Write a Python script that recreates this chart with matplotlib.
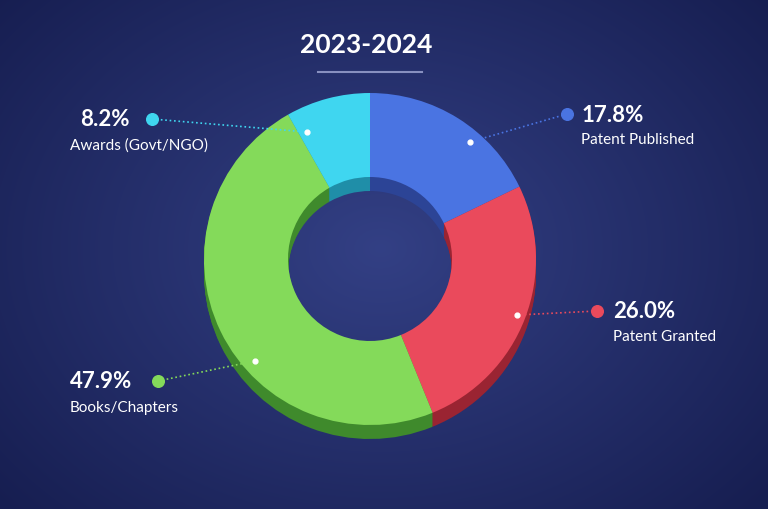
import matplotlib
matplotlib.use("Agg")
import matplotlib.pyplot as plt
import numpy as np

title = "2023-2024"
categories = ["Patent Published", "Patent Granted", "Books/Chapters", "Awards (Govt/NGO)"]
values = [17.8, 26.0, 47.9, 8.2]
colors = ["#4a74e2", "#ea4a5c", "#84da5a", "#3fd6f0"]
dark = ["#2c4496", "#9a2432", "#3f8a2c", "#1f8ea8"]

W, H = 768, 510
fig = plt.figure(figsize=(7.68, 5.10), dpi=100)
ax = fig.add_axes([0, 0, 1, 1])
ax.set_xlim(0, W); ax.set_ylim(0, H); ax.set_aspect('equal'); ax.axis('off')

# background radial gradient
yy, xx = np.mgrid[0:H, 0:W]
d = np.sqrt(((xx - 380) / 500) ** 2 + ((yy - 260) / 380) ** 2)
c0 = np.array([0.20, 0.25, 0.52]); c1 = np.array([0.09, 0.12, 0.32])
t = np.clip(d, 0, 1)[..., None]
img = c0 * (1 - t) + c1 * t
ax.imshow(img, extent=[0, W, 0, H], origin='lower', zorder=0)

cx, cy, R, w = 370, 250, 166, 84
for k in range(14, 0, -1):
    ax.pie(values, colors=dark, startangle=90, counterclock=False, radius=R,
           center=(cx, cy - k), wedgeprops=dict(width=w, linewidth=0), frame=True)
ax.pie(values, colors=colors, startangle=90, counterclock=False, radius=R,
       center=(cx, cy), wedgeprops=dict(width=w, linewidth=0), frame=True)
ax.set_xlim(0, W); ax.set_ylim(0, H); ax.axis('off')

ax.text(W / 2 - 18, H - 45, title, color='white', fontsize=19, fontweight='bold',
        ha='center', va='center', family='Lato')
ax.plot([318, 422], [H - 73, H - 73], color='#8890c0', lw=1.5)

# labels: (pct xy, dot xy, wedge point, name xy)
ann = [((582, 115), (567, 115), (470, 143), (581, 140), 'left'),
       ((613, 312), (597, 312), (517, 316), (613, 337), 'left'),
       ((70, 382), (158, 382), (255, 362), (70, 408), 'left'),
       ((80, 120), (152, 120), (307, 133), (70, 146), 'left')]
for v, n, c, (p, dot, wp, nm, ha) in zip(values, categories, colors, ann):
    ax.plot([dot[0], wp[0]], [H - dot[1], H - wp[1]], color=c, lw=1.2, ls=':')
    ax.scatter([dot[0]], [H - dot[1]], s=70, color=c, zorder=5)
    ax.scatter([wp[0]], [H - wp[1]], s=12, color='white', zorder=5)
    ax.text(p[0], H - p[1], f"{v:.1f}%", color='white', fontsize=16, fontweight='bold',
            ha=ha, va='center', family='Lato')
    ax.text(nm[0], H - nm[1], n, color='white', fontsize=11, ha=ha, va='center', family='Lato')

fig.savefig("out.png", dpi=100)
